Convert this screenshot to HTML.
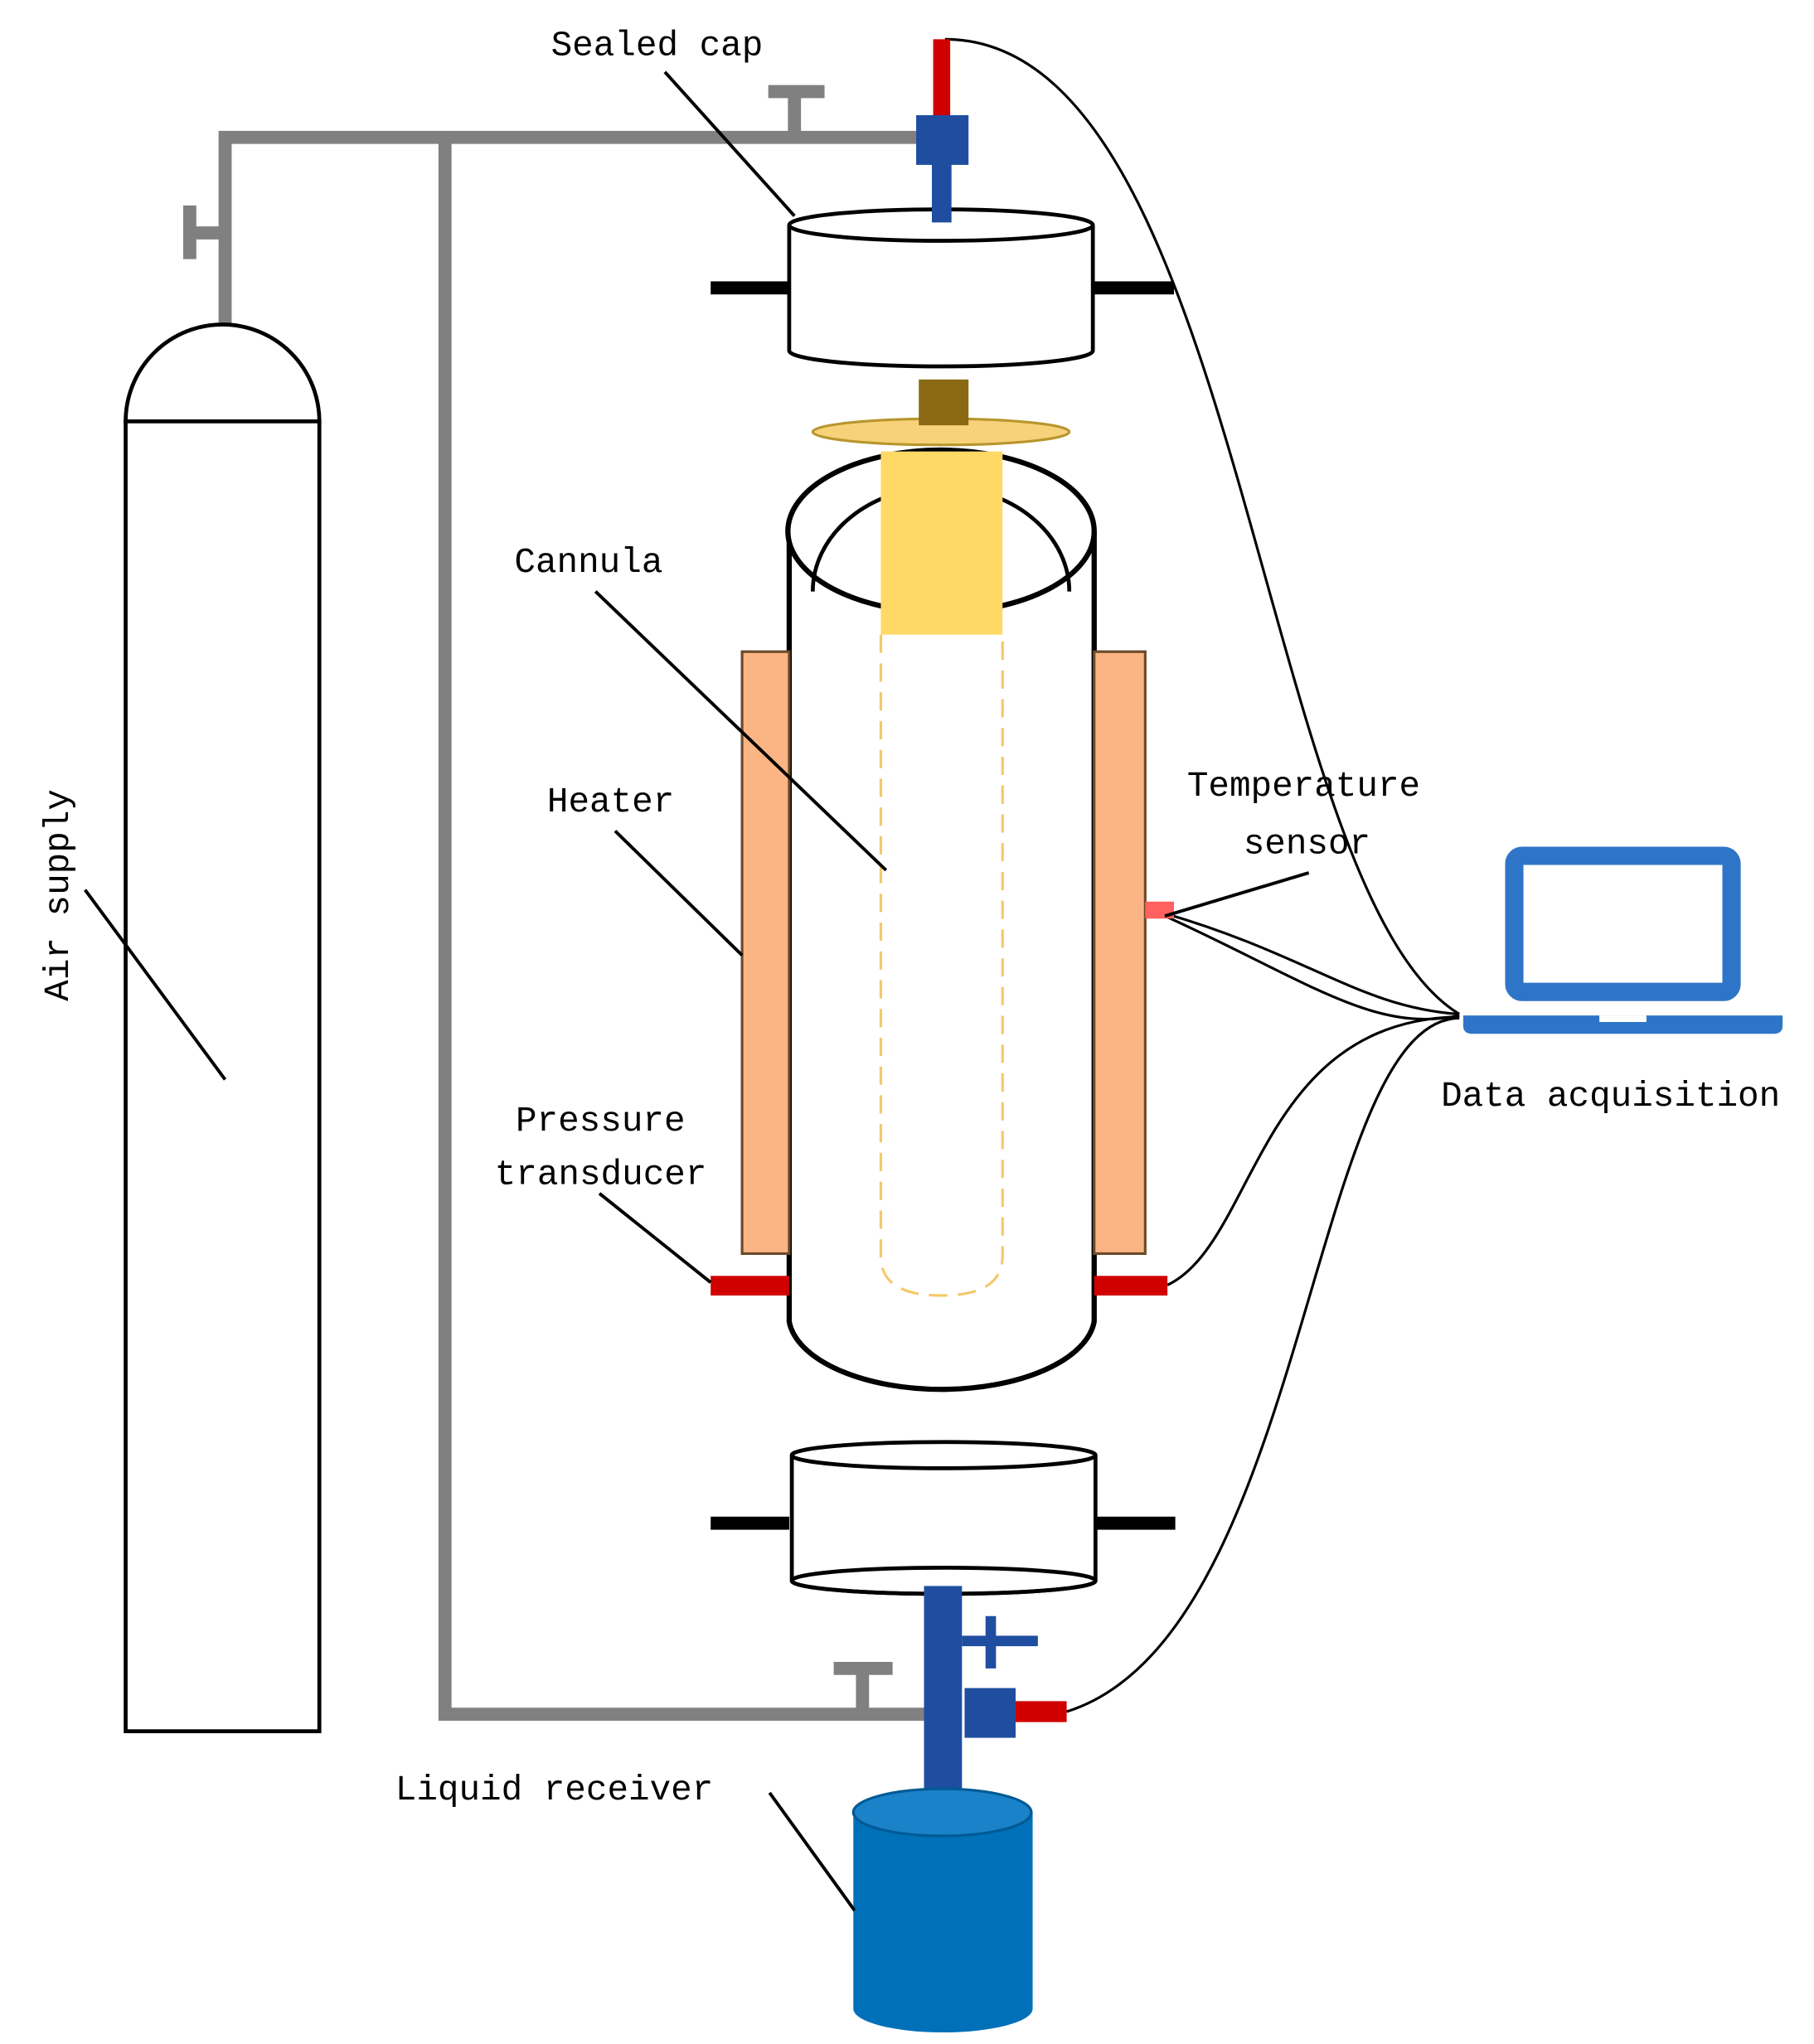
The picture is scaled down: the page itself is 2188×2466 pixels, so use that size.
<!DOCTYPE html>
<html><head><meta charset="utf-8"><style>
html,body{margin:0;padding:0;background:#fff;}
svg{display:block;}
text{font-family:"Liberation Mono","Noto Sans CJK SC",monospace;font-size:27px;fill:#000;}
</style></head><body>
<svg width="2188" height="2466" viewBox="0 0 1386 1562" preserveAspectRatio="none" xmlns="http://www.w3.org/2000/svg">
<rect width="1386" height="1562" fill="#fff"/>
<!-- gray pipes -->
<g stroke="#808080" stroke-width="10" fill="none">
<path d="M172 250 V105 H712"/>
<path d="M145 157 V198 M145 178 H172"/>
<path d="M607 70 V105 M587 70 H630"/>
<path d="M340 105 V1310 H708"/>
<path d="M659 1275 V1310 M637 1275 H682"/>
</g>
<!-- gas cylinder -->
<path d="M96 322 A74 74 0 0 1 244 322 Z" fill="#fff" stroke="#000" stroke-width="3"/>
<rect x="96" y="322" width="148" height="1001" fill="#fff" stroke="#000" stroke-width="3"/>
<!-- wires -->
<g stroke="#000" stroke-width="2" fill="none">
<path d="M722 30 C950 30 960 680 1115 775"/>
<path d="M890 698 C1000 730 1040 770 1115 775"/>
<path d="M890 700 C1000 750 1050 790 1115 776"/>
<path d="M892 982 C960 950 960 780 1115 777"/>
<path d="M815 1308 C1000 1250 1000 780 1115 778"/>
</g>
<!-- top cap -->
<rect x="543" y="215" width="60" height="10" fill="#000"/>
<rect x="835" y="215" width="62" height="10" fill="#000"/>
<path d="M603 172 V268 A116 12 0 0 0 835 268 V172" fill="#fff" stroke="#000" stroke-width="3"/>
<ellipse cx="719" cy="172" rx="116" ry="12" fill="#fff" stroke="#000" stroke-width="3"/>
<!-- top fitting -->
<rect x="713" y="30" width="13" height="60" fill="#d00000"/>
<rect x="712" y="124" width="15" height="46" fill="#1f4ea0"/>
<rect x="700" y="88" width="40" height="38" fill="#1f4ea0"/>
<!-- main cylinder -->
<path d="M603 406 V1010 A117 57 0 0 0 836 1010 V406" fill="#fff" stroke="#000" stroke-width="4"/>
<ellipse cx="719" cy="406" rx="117" ry="62" fill="#fff" stroke="#000" stroke-width="4"/>
<path d="M621 452 A98 80 0 0 1 817 452" fill="none" stroke="#000" stroke-width="3"/>
<rect x="673" y="345" width="93" height="140" fill="#ffd966"/>
<path d="M673 485 V960 Q673 990 719 990 Q766 990 766 960 V485" fill="none" stroke="#f5c96a" stroke-width="2" stroke-dasharray="14 8"/>
<ellipse cx="719" cy="330" rx="98" ry="10" fill="#f7d27a" stroke="#b8962e" stroke-width="2"/>
<rect x="702" y="290" width="38" height="35" fill="#8b6914"/>
<!-- heaters -->
<rect x="567" y="498" width="36" height="460" fill="#fbb584" stroke="#6b4a2a" stroke-width="2"/>
<rect x="836" y="498" width="39" height="460" fill="#fbb584" stroke="#6b4a2a" stroke-width="2"/>
<rect x="543" y="975" width="60" height="15" fill="#d00000"/>
<rect x="836" y="975" width="56" height="15" fill="#d00000"/>
<rect x="875" y="689" width="22" height="13" fill="#ff6060"/>
<!-- bottom cap -->
<rect x="543" y="1159" width="60" height="10" fill="#000"/>
<rect x="836" y="1159" width="62" height="10" fill="#000"/>
<path d="M605 1112 V1208 A116 10 0 0 0 837 1208 V1112" fill="#fff" stroke="#000" stroke-width="3"/>
<ellipse cx="721" cy="1112" rx="116" ry="10" fill="#fff" stroke="#000" stroke-width="3"/>
<ellipse cx="721" cy="1208" rx="116" ry="10" fill="none" stroke="#000" stroke-width="3"/>
<!-- bottom fittings -->
<rect x="706" y="1212" width="29" height="165" fill="#1f4ea0"/>
<rect x="753" y="1235" width="8" height="40" fill="#1f4ea0"/>
<rect x="735" y="1250" width="58" height="8" fill="#1f4ea0"/>
<rect x="737" y="1290" width="39" height="38" fill="#1f4ea0"/>
<rect x="776" y="1300" width="39" height="16" fill="#d00000"/>
<!-- liquid receiver -->
<path d="M652 1385 V1535 A68 18 0 0 0 789 1535 V1385 Z" fill="#0070b8"/>
<ellipse cx="720" cy="1385" rx="68" ry="18" fill="#1a82c8" stroke="#005a94" stroke-width="2"/>
<!-- laptop -->
<rect x="1157" y="654" width="166" height="104" rx="6" fill="#fff" stroke="#2e75c8" stroke-width="14"/>
<path d="M1118 776 H1362 V784 Q1362 790 1355 790 H1125 Q1118 790 1118 784 Z" fill="#2e75c8"/>
<rect x="1222" y="776" width="36" height="5" fill="#fff"/>
<!-- leaders -->
<g stroke="#000" stroke-width="2.5">
<line x1="508" y1="55" x2="607" y2="165"/>
<line x1="455" y1="452" x2="677" y2="665"/>
<line x1="470" y1="635" x2="567" y2="730"/>
<line x1="1000" y1="667" x2="890" y2="700"/>
<line x1="458" y1="912" x2="543" y2="980"/>
<line x1="588" y1="1370" x2="653" y2="1460"/>
<line x1="65" y1="680" x2="172" y2="825"/>
</g>
<!-- labels -->
<text x="421" y="42">Sealed cap</text>
<text x="393" y="437">Cannula</text>
<text x="418" y="620">Heater</text>
<text x="907" y="608">Temperature</text>
<text x="950" y="652">sensor</text>
<text x="394" y="864">Pressure</text>
<text x="378" y="905">transducer</text>
<text x="1101" y="845">Data acquisition</text>
<text x="302" y="1375">Liquid receiver</text>
<text transform="translate(52 765) rotate(-90)">Air supply</text>
</svg>
</body></html>
